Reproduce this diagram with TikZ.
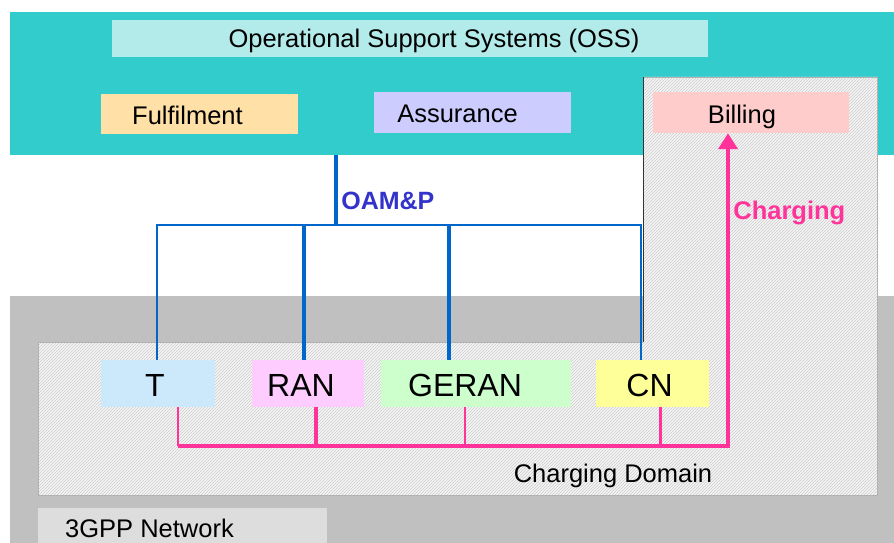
\documentclass[tikz,border=0pt]{standalone}
\usepackage{fontspec}
\setmainfont{Liberation Sans}
\usetikzlibrary{arrows.meta,positioning,patterns}

\definecolor{osscyan}{HTML}{33CCCC}
\definecolor{osslight}{HTML}{B2EBE9}
\definecolor{fulfilcol}{HTML}{FFE0A6}
\definecolor{assurcol}{HTML}{CCCCFF}
\definecolor{billcol}{HTML}{FFCCCC}
\definecolor{tcol}{HTML}{CCE9FB}
\definecolor{rancol}{HTML}{FFCCFF}
\definecolor{gerancol}{HTML}{CCFFCC}
\definecolor{cncol}{HTML}{FFFF99}
\definecolor{netgray}{HTML}{C0C0C0}
\definecolor{labgray}{HTML}{DDDDDD}
\definecolor{oamblue}{HTML}{0066CC}
\definecolor{oamtext}{HTML}{3333CC}
\definecolor{chgpink}{HTML}{FF3399}

\tikzset{
  box/.style={rectangle, inner sep=0pt},
  txt/.style={font=\fontsize{25.5}{30}\selectfont, text=black},
  bigtxt/.style={font=\fontsize{32}{38}\selectfont, text=black},
  oamlbl/.style={font=\fontsize{25}{30}\selectfont\bfseries, text=oamtext},
  chglbl/.style={font=\fontsize{25.5}{30}\selectfont\bfseries, text=chgpink},
  oam/.style={draw=oamblue, line width=4pt},
  oamthin/.style={draw=oamblue, line width=2pt},
  chg/.style={draw=chgpink, line width=4pt},
  chgthin/.style={draw=chgpink, line width=2pt},
}

\begin{document}
\begin{tikzpicture}[x=1pt, y=-1pt]
  \useasboundingbox (0,0) rectangle (894,543); %Fix picture size

  \fill[osscyan] (10,12) rectangle (894,155); %Draw OSS band
  \fill[netgray] (10,296) rectangle (894,553); %Draw 3GPP network band

  \fill[gray!8] (643,77) -- (877,77) -- (877,495) -- (38,495) -- (38,342) -- (643,342) -- cycle; %Draw charging domain
  \fill[pattern=north east lines, pattern color=gray!40] (643,77) -- (877,77) -- (877,495) -- (38,495) -- (38,342) -- (643,342) -- cycle; %Hatch charging domain
  \draw[gray!60, line width=0.8pt] (643,342) -- (38,342) -- (38,495) -- (877,495) -- (877,77) -- (643,77); %Outline charging domain
  \draw[black!80, line width=1pt] (643,77) -- (643,342); %Left edge of billing part
  \node[txt] (chdomain) at (613,476) {Charging Domain}; %Domain label

  \node[box, fill=osslight, minimum width=596pt, minimum height=37pt,
        label={[txt, xshift=24pt, yshift=-2pt]center:Operational Support Systems (OSS)}] (oss) at (410,38.5) {}; %OSS title
  \node[box, fill=fulfilcol, minimum width=197pt, minimum height=40pt,
        label={[txt, xshift=-12pt, yshift=-1pt]center:Fulfilment}] (fulfil) at (199.5,114) {};
  \node[box, fill=assurcol, minimum width=197pt, minimum height=41pt,
        label={[txt, xshift=-15pt, yshift=-1pt]center:Assurance}] (assur) at (472.5,112.5) {};
  \node[box, fill=billcol, minimum width=196pt, minimum height=41pt,
        label={[txt, xshift=-9pt, yshift=-4pt]center:Billing}] (billing) at (751,112.5) {};

  \node[box, fill=tcol, minimum width=114pt, minimum height=47pt,
        label={[bigtxt, xshift=-3pt, yshift=-2pt]center:T}] (t) at (158,383.5) {}; %Network elements
  \node[box, fill=rancol, minimum width=112pt, minimum height=47pt,
        label={[bigtxt, xshift=-7pt, yshift=-2pt]center:RAN}] (ran) at (308,383.5) {};
  \node[box, fill=gerancol, minimum width=190pt, minimum height=47pt,
        label={[bigtxt, xshift=-11pt, yshift=-2pt]center:GERAN}] (geran) at (476,383.5) {};
  \node[box, fill=cncol, minimum width=113pt, minimum height=47pt,
        label={[bigtxt, xshift=-3pt, yshift=-2pt]center:CN}] (cn) at (652.5,383.5) {};

  \node[box, fill=labgray, minimum width=289pt, minimum height=44pt,
        label={[txt, xshift=-33pt, yshift=2pt]center:3GPP Network}] (net) at (182.5,530) {}; %Network label

  \coordinate (oamtop) at (336,155);
  \coordinate (oambus) at (336,225);
  \coordinate (tup) at ([xshift=-1pt]t.north);
  \coordinate (ranup) at ([xshift=-4pt]ran.north);
  \coordinate (geranup) at ([xshift=-27pt]geran.north);
  \coordinate (cnup) at ([xshift=-12pt]cn.north);

  \draw[oam] (oamtop) -- node[pos=0.65, right, oamlbl] {OAM\&P} (oambus); %Draw OAM&P trunk
  \draw[oamthin] (tup) |- (cnup |- oambus) -- (cnup); %Draw OAM&P bus
  \draw[oam] (ranup) -- (ranup |- oambus); %Draw RAN drop
  \draw[oam] (geranup) -- (geranup |- oambus); %Draw GERAN drop

  \coordinate (tdown) at ([xshift=20pt]t.south);
  \coordinate (randown) at ([xshift=8pt]ran.south);
  \coordinate (gerandown) at ([xshift=-11pt]geran.south);
  \coordinate (cndown) at ([xshift=8pt]cn.south);
  \coordinate (billdown) at ([xshift=-23pt]billing.south);
  \coordinate (chbus) at (728,446);

  \draw[chgthin] (tdown) -- (tdown |- chbus); %Draw T charging drop
  \draw[chg, line width=3.5pt] (randown) -- (randown |- chbus); %Draw RAN charging drop
  \draw[chgthin] (gerandown) -- (gerandown |- chbus); %Draw GERAN charging drop
  \draw[chg, line width=3pt] (cndown) -- (cndown |- chbus); %Draw CN charging drop
  \draw[chg, -{Triangle[length=16pt, width=19pt]}] (tdown |- chbus) -- (chbus)
    -- node[pos=0.745, right, chglbl] {Charging} (billdown); %Draw charging path to billing
\end{tikzpicture}
\end{document}
